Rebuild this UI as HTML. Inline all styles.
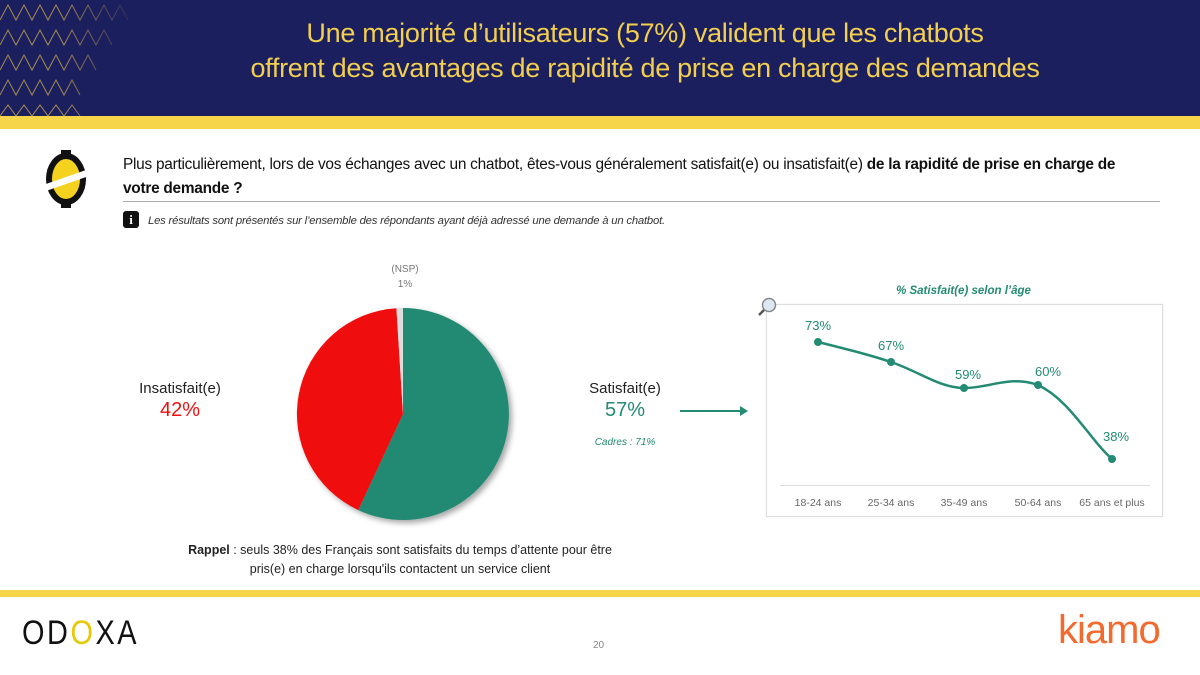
<!DOCTYPE html>
<html><head><meta charset="utf-8"><style>
body{margin:0;width:1200px;height:675px;position:relative;background:#fff;font-family:"Liberation Sans",sans-serif;overflow:hidden}
.a{position:absolute;white-space:nowrap}
</style></head><body>
<div class="a" style="left:0;top:0;width:1200px;height:116px;background:#1b1f5e"></div>
<svg class="a" style="left:0;top:0" width="140" height="116">
<g stroke="#c9a84c" stroke-width="1" fill="none" opacity="0.8">
<path d="M0 20 L8 5 L16 20 L24 5 L32 20 L40 5 L48 20 L56 5 L64 20 L72 5 L80 20 L88 5 L96 20 L104 5 L112 20 L120 5 L128 20"/>
<path d="M0 45 L8 30 L16 45 L24 30 L32 45 L40 30 L48 45 L56 30 L64 45 L72 30 L80 45 L88 30 L96 45 L104 30 L112 45"/>
<path d="M0 70 L8 55 L16 70 L24 55 L32 70 L40 55 L48 70 L56 55 L64 70 L72 55 L80 70 L88 55 L96 70"/>
<path d="M0 95 L8 80 L16 95 L24 80 L32 95 L40 80 L48 95 L56 80 L64 95 L72 80 L80 95"/>
<path d="M0 116 L8 105 L16 116 L24 105 L32 116 L40 105 L48 116 L56 105 L64 116 L72 105 L80 116"/>
</g></svg>
<div class="a" style="left:0;top:0;width:1200px;height:116px;background:linear-gradient(90deg,rgba(27,31,94,0) 0,rgba(27,31,94,0) 60px,#1b1f5e 140px)"></div>
<div class="a" style="left:45px;width:1200px;top:16px;text-align:center;color:#f3cf4f;font-size:27px;line-height:35px;letter-spacing:-0.3px">Une majorité d’utilisateurs (57%) valident que les chatbots<br>offrent des avantages de rapidité de prise en charge des demandes</div>
<div class="a" style="left:0;top:116px;width:1200px;height:13px;background:#f7d54a"></div>
<svg class="a" style="left:46px;top:150px" width="42" height="58"><rect x="15" y="0" width="10" height="6" fill="#111"/><rect x="15" y="52" width="10" height="6" fill="#111"/><ellipse cx="20" cy="29" rx="17" ry="23" fill="#f5d21f" stroke="#111" stroke-width="6"/><path d="M0 34 L40 20 L40 27 L0 41Z" fill="#fff"/></svg>
<div class="a" style="left:123px;top:153px;font-size:15.4px;line-height:24px;color:#111;letter-spacing:-0.25px">Plus particulièrement, lors de vos échanges avec un chatbot, êtes-vous généralement satisfait(e) ou insatisfait(e) <b>de la rapidité de prise en charge de</b><br><b>votre demande ?</b></div>
<div class="a" style="left:123px;top:201px;width:1037px;height:1px;background:#aaa"></div>
<div class="a" style="left:123px;top:211px;width:16px;height:17px;background:#111;border-radius:3px;color:#fff;font:bold 13px 'Liberation Serif',serif;text-align:center;line-height:17px">i</div>
<div class="a" style="left:148px;top:215px;font-size:11.3px;font-style:italic;color:#333;letter-spacing:-0.2px">Les résultats sont présentés sur l’ensemble des répondants ayant déjà adressé une demande à un chatbot.</div>
<svg class="a" style="left:280px;top:290px" width="250" height="250">
<defs><filter id="s"><feDropShadow dx="3" dy="3" stdDeviation="3" flood-opacity="0.35"/></filter></defs>
<g filter="url(#s)" transform="translate(123,124)">
<path d="M0 0 L0 -106 A106 106 0 1 1 -44.8 96.1Z" fill="#238a73"/>
<path d="M0 0 L-44.8 96.1 A106 106 0 0 1 -6.6 -105.8Z" fill="#f01010"/>
<path d="M0 0 L-6.6 -105.8 A106 106 0 0 1 0 -106Z" fill="#ddd"/>
</g></svg>
<div class="a" style="left:380px;top:262px;width:50px;text-align:center;font-size:10px;color:#777;line-height:15px">(NSP)<br>1%</div>
<div class="a" style="left:120px;top:380px;width:120px;text-align:center;font-size:15px;color:#222">Insatisfait(e)</div>
<div class="a" style="left:120px;top:399px;width:120px;text-align:center;font-size:20px;color:#f01010">42%</div>
<div class="a" style="left:565px;top:380px;width:120px;text-align:center;font-size:15px;color:#222">Satisfait(e)</div>
<div class="a" style="left:565px;top:399px;width:120px;text-align:center;font-size:20px;color:#238a73">57%</div>
<div class="a" style="left:565px;top:437px;width:120px;text-align:center;font-size:10px;font-style:italic;color:#238a73">Cadres : 71%</div>
<svg class="a" style="left:680px;top:404px" width="70" height="14"><path d="M0 7 H62" stroke="#238a73" stroke-width="2"/><path d="M60 2 L68 7 L60 12Z" fill="#238a73"/></svg>
<div class="a" style="left:170px;top:541px;width:460px;text-align:center;font-size:12.5px;line-height:19px;color:#222;white-space:normal">
<b>Rappel</b> : seuls 38% des Français sont satisfaits du temps d’attente pour être<br>pris(e) en charge lorsqu'ils contactent un service client</div>
<div class="a" style="left:766px;top:304px;width:395px;height:211px;border:1px solid #ddd;box-shadow:0 0 2px #eee"></div>
<div class="a" style="left:766px;top:285px;width:395px;text-align:center;font-size:11.5px;font-weight:bold;font-style:italic;color:#238a73">% Satisfait(e) selon l’âge</div>
<svg class="a" style="left:756px;top:296px" width="24" height="22"><circle cx="13" cy="9" r="6.5" fill="#dde7f0" stroke="#888" stroke-width="1.5"/><path d="M8 14 L3 19" stroke="#555" stroke-width="2.5"/></svg>
<svg class="a" style="left:0;top:0" width="1200" height="675">
<path d="M780 485.5 H1150" stroke="#ddd"/>
<path d="M818 342 C850 350 870 355 891 362 C920 372 940 388 964 388 C990 388 1010 375 1038 385 C1070 400 1090 440 1112 459" fill="none" stroke="#238a73" stroke-width="2.5"/>
<g fill="#238a73"><circle cx="818" cy="342" r="4"/><circle cx="891" cy="362" r="4"/><circle cx="964" cy="388" r="4"/><circle cx="1038" cy="385" r="4"/><circle cx="1112" cy="459" r="4"/></g>
<g fill="#238a73" font-size="13" text-anchor="middle" font-family="Liberation Sans"><text x="818" y="330">73%</text><text x="891" y="350">67%</text><text x="968" y="379">59%</text><text x="1048" y="376">60%</text><text x="1116" y="441">38%</text></g>
<g fill="#666" font-size="10.5" text-anchor="middle" font-family="Liberation Sans"><text x="818" y="506">18-24 ans</text><text x="891" y="506">25-34 ans</text><text x="964" y="506">35-49 ans</text><text x="1038" y="506">50-64 ans</text><text x="1112" y="506">65 ans et plus</text></g>
</svg>
<div class="a" style="left:0;top:590px;width:1200px;height:7px;background:#f7d54a"></div>
<div class="a" style="left:22px;top:614px;font-size:34px;letter-spacing:3px;color:#111;transform:scaleX(0.85);transform-origin:left">OD<span style="color:#e8c800">O</span>XA</div>
<div class="a" style="left:593px;top:640px;font-size:10px;color:#888">20</div>
<div class="a" style="left:1058px;top:608px;font-size:40px;color:#f26a2e;letter-spacing:-1px">kiamo</div>
</body></html>
